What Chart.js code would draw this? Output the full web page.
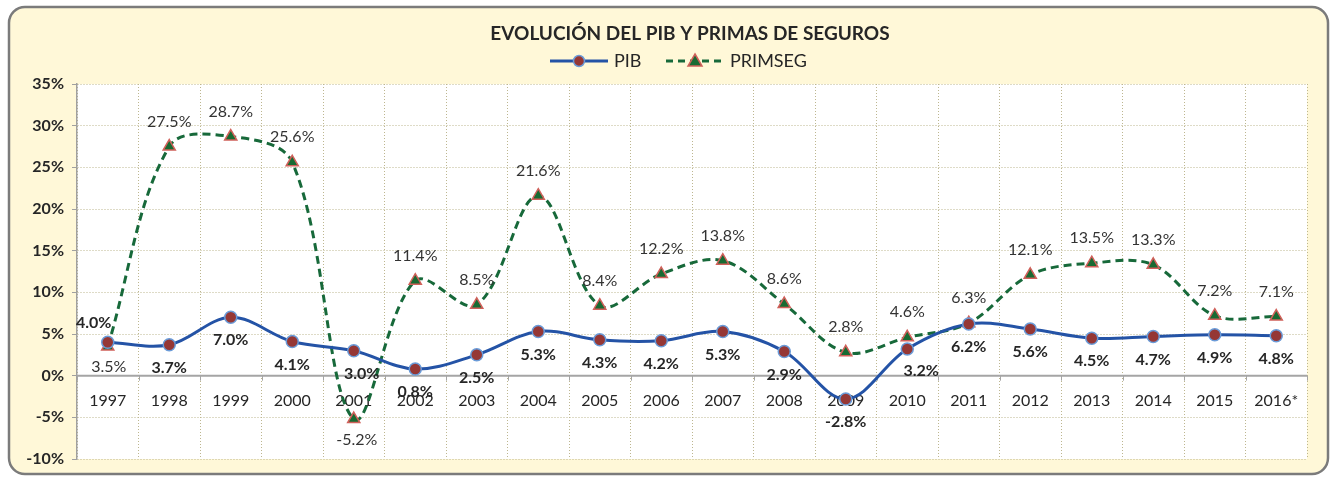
<!DOCTYPE html>
<html>
<head>
<meta charset="utf-8">
<script src="https://cdn.jsdelivr.net/npm/chart.js@4"></script>
<style>
  html, body { margin: 0; padding: 0; background: #ffffff; }
  #wrap { width: 1334px; height: 477px; position: relative; }
</style>
</head>
<body>
<div id="wrap"><canvas id="pibChart" width="1334" height="477"></canvas></div>
<script>
// --- data ---
const years = ['1997', '1998', '1999', '2000', '2001', '2002', '2003', '2004', '2005', '2006',
               '2007', '2008', '2009', '2010', '2011', '2012', '2013', '2014', '2015', '2016*'];
const pib = [4.0, 3.7, 7.0, 4.1, 3.0, 0.8, 2.5, 5.3, 4.3, 4.2,
             5.3, 2.9, -2.8, 3.2, 6.2, 5.6, 4.5, 4.7, 4.9, 4.8];
const primseg = [3.5, 27.5, 28.7, 25.6, -5.2, 11.4, 8.5, 21.6, 8.4, 12.2,
                 13.8, 8.6, 2.8, 4.6, 6.3, 12.1, 13.5, 13.3, 7.2, 7.1];
const yTicks = [-10, -5, 0, 5, 10, 15, 20, 25, 30, 35];

const FONT = 'Lato, "Open Sans", sans-serif';
const PIB_LINE = '#2453a6';
const PIB_FILL = '#953735';
const PIB_EDGE = '#6a9bd8';
const PRIM_LINE = '#17693a';
const PRIM_FILL = '#186a32';
const PRIM_EDGE = '#d0605a';
const GRID = '#bdb68f';

// where each series puts its value labels, with a few exceptions like the original
const labelPlacement = {
    0: { side: 'below', gap: 23, except: { '1997': { dx: -14, dy: -19 }, '2001': { dx: 8, dy: 23 }, '2010': { dx: 14, dy: 22 } } },
    1: { side: 'above', gap: 25, except: { '1997': { dx: 1, dy: 20 }, '2001': { dx: 3, dy: 21 } } }
};

// outer rounded frame + white plot area
const framePlugin = {
    id: 'frame',
    beforeDraw(chart) {
        const ctx = chart.ctx;
        const a = chart.chartArea;
        ctx.save();
        ctx.beginPath();
        ctx.roundRect(9, 7, 1319, 467, 16);
        ctx.fillStyle = '#fff8d8';
        ctx.fill();
        ctx.lineWidth = 2.5;
        ctx.strokeStyle = '#7b7b7b';
        ctx.stroke();
        ctx.fillStyle = '#ffffff';
        ctx.fillRect(a.left, a.top, a.right - a.left, a.bottom - a.top);
        ctx.restore();
    },
    beforeDatasetsDraw(chart) {
        // zero axis with category labels sitting on it
        const ctx = chart.ctx;
        const x = chart.scales.x;
        const y0 = chart.scales.y.getPixelForValue(0);
        const a = chart.chartArea;
        ctx.save();
        ctx.strokeStyle = '#a5a5a5';
        ctx.lineWidth = 2;
        ctx.beginPath();
        ctx.moveTo(a.left, y0);
        ctx.lineTo(a.right, y0);
        ctx.stroke();
        const step = (a.right - a.left) / years.length;
        ctx.lineWidth = 1;
        for (let i = 0; i <= years.length; i++) {
            const px = Math.round(a.left + i * step) + 0.5;
            ctx.beginPath();
            ctx.moveTo(px, y0);
            ctx.lineTo(px, y0 + 5);
            ctx.stroke();
        }
        ctx.fillStyle = '#262626';
        ctx.font = '16px ' + FONT;
        ctx.textAlign = 'center';
        ctx.textBaseline = 'middle';
        years.forEach((yr, i) => {
            ctx.fillText(yr, x.getPixelForValue(i), y0 + 25);
        });
        ctx.restore();
    },
    afterDatasetsDraw(chart) {
        const ctx = chart.ctx;
        ctx.save();
        ctx.textAlign = 'center';
        ctx.textBaseline = 'middle';
        chart.data.datasets.forEach((ds, di) => {
            const meta = chart.getDatasetMeta(di);
            const place = labelPlacement[di];
            ctx.font = (di === 0 ? 'bold ' : '') + '16px ' + FONT;
            ctx.fillStyle = di === 0 ? '#262626' : '#333333';
            meta.data.forEach((pt, i) => {
                const ex = place.except[years[i]];
                let dx = 0, dy = place.side === 'below' ? place.gap : -place.gap;
                if (ex) { dx = ex.dx; dy = ex.dy; }
                ctx.fillText(ds.data[i].toFixed(1) + '%', pt.x + dx, pt.y + dy);
            });
        });
        ctx.restore();
    },
    afterDraw(chart) {
        // title and legend
        const ctx = chart.ctx;
        ctx.save();
        ctx.fillStyle = '#262626';
        ctx.font = 'bold 19px ' + FONT;
        ctx.textAlign = 'center';
        ctx.textBaseline = 'middle';
        ctx.fillText('EVOLUCIÓN DEL PIB Y PRIMAS DE SEGUROS', 690, 34);

        const ly = 61;
        ctx.lineWidth = 3;
        ctx.strokeStyle = PIB_LINE;
        ctx.beginPath();
        ctx.moveTo(550, ly);
        ctx.lineTo(608, ly);
        ctx.stroke();
        ctx.beginPath();
        ctx.arc(579, ly, 5.5, 0, Math.PI * 2);
        ctx.fillStyle = PIB_FILL;
        ctx.fill();
        ctx.lineWidth = 1.5;
        ctx.strokeStyle = PIB_EDGE;
        ctx.stroke();

        ctx.lineWidth = 3;
        ctx.strokeStyle = PRIM_LINE;
        ctx.setLineDash([7, 5]);
        ctx.beginPath();
        ctx.moveTo(666, ly);
        ctx.lineTo(724, ly);
        ctx.stroke();
        ctx.setLineDash([]);
        ctx.beginPath();
        ctx.moveTo(695, ly - 7);
        ctx.lineTo(702, ly + 5);
        ctx.lineTo(688, ly + 5);
        ctx.closePath();
        ctx.fillStyle = PRIM_FILL;
        ctx.fill();
        ctx.lineWidth = 1.5;
        ctx.strokeStyle = PRIM_EDGE;
        ctx.stroke();

        ctx.fillStyle = '#262626';
        ctx.font = '18px ' + FONT;
        ctx.textAlign = 'left';
        ctx.fillText('PIB', 614, ly);
        ctx.fillText('PRIMSEG', 730, ly);
        ctx.restore();
    }
};

new Chart(document.getElementById('pibChart'), {
    type: 'line',
    data: {
        labels: years,
        datasets: [{
            label: 'PIB',
            data: pib,
            borderColor: PIB_LINE,
            borderWidth: 3,
            tension: 0.35,
            pointStyle: 'circle',
            pointRadius: 6,
            pointBackgroundColor: PIB_FILL,
            pointBorderColor: PIB_EDGE,
            pointBorderWidth: 1.5,
            order: 1
        }, {
            label: 'PRIMSEG',
            data: primseg,
            borderColor: PRIM_LINE,
            borderWidth: 3,
            borderDash: [8, 5],
            tension: 0.35,
            pointStyle: 'triangle',
            pointRadius: 7,
            pointBackgroundColor: PRIM_FILL,
            pointBorderColor: PRIM_EDGE,
            pointBorderWidth: 1.5,
            order: 2
        }]
    },
    options: {
        responsive: false,
        animation: false,
        devicePixelRatio: 1,
        layout: { padding: { top: 84, left: 10, right: 27, bottom: 18 } },
        plugins: {
            legend: { display: false },
            title: { display: false },
            tooltip: { enabled: false }
        },
        scales: {
            x: {
                offset: true,
                grid: { offset: true, color: GRID, drawTicks: false },
                border: { display: false, dash: [1, 2] },
                ticks: { display: false }
            },
            y: {
                min: -10,
                max: 35,
                afterBuildTicks(scale) { scale.ticks = yTicks.map(v => ({ value: v })); },
                afterFit(scale) { scale.width = 67; },
                grid: { color: GRID, tickLength: 5, tickColor: '#a0a0a0', tickBorderDash: [] },
                border: { color: '#a0a0a0', width: 1.5, dash: [1, 2] },
                ticks: {
                    padding: 8,
                    color: '#262626',
                    font: { family: FONT, size: 16, weight: 'bold' },
                    callback: v => v + '%'
                }
            }
        }
    },
    plugins: [framePlugin]
});
</script>
</body>
</html>
